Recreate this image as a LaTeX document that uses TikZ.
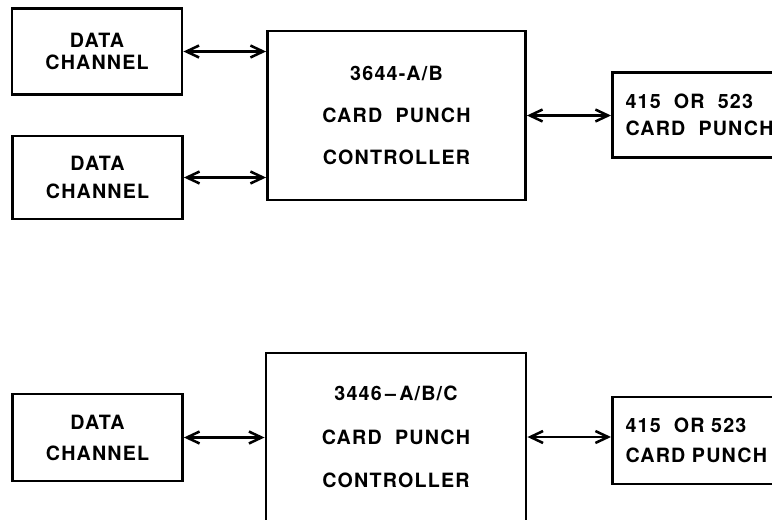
\documentclass[tikz,border=0pt]{standalone}
\usepackage{fontspec}
\newfontfamily\letterfont[LetterSpace=6]{TeX Gyre Heros}
\usetikzlibrary{arrows.meta,positioning}

\begin{document}
\begin{tikzpicture}[
  x=0.025cm, y=-0.025cm,
  >={Straight Barb[length=9pt,width=8.5pt,line width=1.8pt]},
  block/.style={rectangle, draw=black, line width=2pt, inner sep=0pt, align=center, font=\letterfont\bfseries\fontsize{14}{17}\selectfont},
  channel/.style={block, minimum width=4.25cm, minimum height=2.15cm},
  controller/.style={block, minimum width=6.45cm, minimum height=4.22cm},
  punch/.style={block, anchor=west, minimum height=2.12cm, inner xsep=0.33cm, text width=6cm, align=left},
  link/.style={<->, line width=1.5pt}
]
  \useasboundingbox (0,0) rectangle (772,520);
  \clip (0,0) rectangle (772,520);

  % Upper system: two channels on one controller
  \node[channel] (chan_a) at (97,51.5) {DATA\\[-1.5pt]CHANNEL};
  \node[channel, minimum height=2.075cm] (chan_b) at (97.5,177.5) {DATA\\[3.5pt]CHANNEL};
  \node[controller] (ctrl_top) at (396.5,115.5) {3644-A/B\\[13pt]CARD\ \ PUNCH\\[13pt]CONTROLLER};
  \node[punch] (punch_top) at (611,115) {415\ \ OR\ \ 523\\[2pt]CARD\ \ PUNCH};

  % Lower system: one channel
  \node[channel, minimum height=2.175cm] (chan_c) at (97.5,437.5) {DATA\\[5pt]CHANNEL};
  \node[controller, minimum width=6.5cm, minimum height=4.2cm] (ctrl_low) at (396,437) {3446\,\textendash\,A/B/C\\[14pt]CARD\ \ PUNCH\\[14pt]CONTROLLER};
  \node[punch, minimum height=2.175cm] (punch_low) at (611,440.5) {415\ \ OR\ 523\\[4pt]CARD PUNCH};

  % Links
  \draw[link] (chan_a.east) -- (chan_a.east -| ctrl_top.west);
  \draw[link] (chan_b.east) -- (chan_b.east -| ctrl_top.west);
  \draw[link] (ctrl_top.east) -- (ctrl_top.east -| punch_top.west);
  \draw[link] (chan_c.east) -- (chan_c.east -| ctrl_low.west);
  \draw[link] (ctrl_low.east) -- (ctrl_low.east -| punch_low.west);
\end{tikzpicture}
\end{document}
